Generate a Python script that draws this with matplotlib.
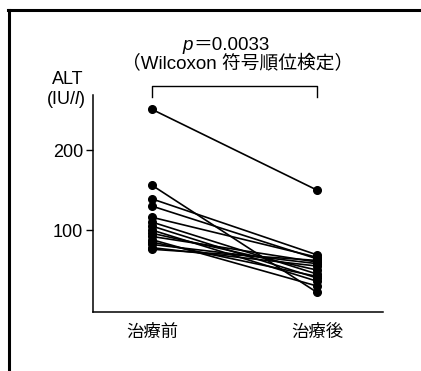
import matplotlib
matplotlib.use("Agg")
import matplotlib.pyplot as plt
from matplotlib.lines import Line2D

plt.rcParams['font.family'] = ['Liberation Sans', 'Noto Sans CJK JP']
plt.rcParams['mathtext.fontset'] = 'custom'
plt.rcParams['mathtext.it'] = 'Liberation Sans:italic'
plt.rcParams['mathtext.rm'] = 'Liberation Sans'

# ALT values per patient, before / after treatment
groups = ['治療前', '治療後']
alt_before = [251, 156, 139, 130, 116, 110, 105, 100, 96, 92, 88, 85, 82, 78, 76]
alt_after = [150, 22, 69, 64, 66, 45, 40, 36, 50, 60, 30, 42, 58, 55, 62]
yticks = [100, 200]

W, H = 421, 371
fig = plt.figure(figsize=(W / 100, H / 100), dpi=100)


def px(x, y):
    return x / W, 1 - y / H


ax = fig.add_axes([93 / W, 1 - 312 / H, 290 / W, 217 / H])

for b, a in zip(alt_before, alt_after):
    ax.plot([0, 1], [b, a], color='black', lw=1.2,
            marker='o', ms=5.5, mfc='black', mec='black', clip_on=False)

ax.set_xlim(-0.358, 1.4)
ax.set_ylim(-2.5, 269)
ax.set_xticks([0, 1])
ax.set_xticklabels(groups, fontsize=12.5, family=['Noto Sans CJK JP'])
ax.tick_params(axis='x', length=0, pad=8)
ax.set_yticks(yticks)
ax.set_yticklabels([str(t) for t in yticks], fontsize=13)
ax.tick_params(axis='y', length=5, width=1, direction='out', pad=2)
for s in ['top', 'right']:
    ax.spines[s].set_visible(False)
ax.spines['left'].set_linewidth(1.1)
ax.spines['bottom'].set_linewidth(1.1)

# significance bracket
ax.plot([0, 0, 1, 1], [267, 280, 280, 267], color='black', lw=1.0, clip_on=False)
fig.text(*px(193, 45), 'p', ha='right', va='center', fontsize=13.5, style='italic')
fig.text(*px(193, 45), '＝0.0033', ha='left', va='center', fontsize=13.5)
fig.text(*px(238, 64), '（Wilcoxon 符号順位検定）', ha='center', va='center', fontsize=13.5)

# y axis unit label
fig.text(*px(68, 80), 'ALT', ha='center', va='center', fontsize=13)
fig.text(*px(66, 99), '(IU/$l$)', ha='center', va='center', fontsize=13)

# scanned page frame
fig.add_artist(Line2D([8 / W, 1], [1 - 10 / H, 1 - 10 / H], color='black', lw=2.2))
fig.add_artist(Line2D([9 / W, 9 / W], [0, 1 - 10 / H], color='black', lw=2.2))

fig.savefig('out.png', dpi=100)
